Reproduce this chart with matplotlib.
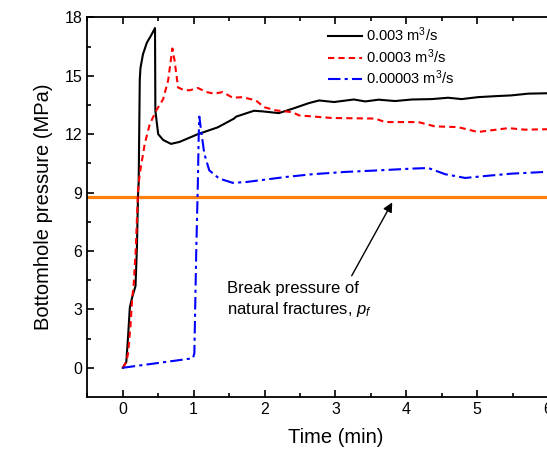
import matplotlib
matplotlib.use("Agg")
import matplotlib.pyplot as plt

plt.rcParams["font.family"] = ["Liberation Sans", "DejaVu Sans"]
plt.rcParams["mathtext.fontset"] = "custom"
plt.rcParams["mathtext.rm"] = "Liberation Sans"
plt.rcParams["mathtext.it"] = "Liberation Sans:italic"

# ── Data ──────────────────────────────────────────────────────────────────────
t_high = [0, 0.05, 0.075, 0.1, 0.135, 0.18, 0.2, 0.215, 0.225, 0.24, 0.25, 0.285, 0.34,
          0.40, 0.455, 0.46, 0.50, 0.57, 0.68, 0.80, 1.06, 1.34, 1.57, 1.6, 1.85, 1.97,
          2.2, 2.39, 2.63, 2.77, 2.98, 3.26, 3.42, 3.61, 3.84, 4.08, 4.36, 4.59, 4.78,
          5.01, 5.25, 5.48, 5.72, 6.0, 6.5]
p_high = [0, 0.3, 1.6, 3.1, 3.65, 4.2, 6.2, 8.8, 9.6, 14.8, 15.4, 16.1, 16.7,
          17.07, 17.45, 13.2, 12.0, 11.7, 11.5, 11.6, 12.0, 12.35, 12.8, 12.9, 13.2, 13.17,
          13.08, 13.3, 13.6, 13.73, 13.65, 13.78, 13.68, 13.77, 13.7, 13.78, 13.8, 13.87, 13.8,
          13.9, 13.95, 13.99, 14.08, 14.1, 14.15]

t_mid = [0, 0.05, 0.075, 0.108, 0.135, 0.155, 0.185, 0.21, 0.215, 0.24, 0.31, 0.38, 0.47,
         0.57, 0.64, 0.70, 0.73, 0.78, 0.85, 0.94, 1.06, 1.18, 1.29, 1.41, 1.55, 1.69,
         1.88, 1.99, 2.16, 2.39, 2.49, 2.95, 3.56, 3.70, 4.17, 4.4, 4.73, 5.01, 5.44,
         5.67, 5.96, 6.5]
p_mid = [0, 0.3, 0.74, 2.1, 3.65, 4.3, 6.2, 8.6, 9.1, 9.97, 11.5, 12.5, 13.2,
         13.8, 14.76, 16.4, 15.8, 14.4, 14.28, 14.25, 14.37, 14.16, 14.08, 14.16, 13.87, 13.9,
         13.73, 13.39, 13.22, 13.13, 12.96, 12.83, 12.8, 12.62, 12.62, 12.4, 12.36, 12.11, 12.31,
         12.23, 12.25, 12.25]

t_low = [0, 0.99, 1.01, 1.035, 1.06, 1.07, 1.08, 1.105, 1.15, 1.22, 1.36, 1.55, 1.74,
         2.02, 2.30, 2.67, 3.14, 3.61, 4.08, 4.31, 4.40, 4.55, 4.83, 5.11, 5.48, 5.96, 6.5]
p_low = [0, 0.49, 0.74, 5.7, 9.6, 11.7, 12.9, 12.2, 11.0, 10.14, 9.72, 9.5, 9.54,
         9.67, 9.8, 9.94, 10.06, 10.14, 10.23, 10.26, 10.14, 9.94, 9.75, 9.85, 9.97, 10.06, 10.1]

labels = ["0.003 m$^3$/s", "0.0003 m$^3$/s", "0.00003 m$^3$/s"]
p_break = 8.75

# ── Plot ──────────────────────────────────────────────────────────────────────
fig = plt.figure(figsize=(5.47, 4.57), dpi=100)
# right part of the axes runs past the figure edge, like the cropped original
ax = fig.add_axes([0.1596, 0.1313, 0.9073, 0.8308])

ax.axhline(p_break, color="#ff7f0e", linewidth=2.3, zorder=1)
ax.plot(t_high, p_high, color="black", linewidth=1.5, linestyle="-", label=labels[0], zorder=3)
ax.plot(t_mid, p_mid, color="red", linewidth=1.5, linestyle=(0, (3, 2)), label=labels[1], zorder=3)
ax.plot(t_low, p_low, color="blue", linewidth=1.5, linestyle=(0, (6, 2, 1.5, 2)), label=labels[2], zorder=3)

ax.set_xlim(-0.5, 6.5)
ax.set_ylim(-1.5, 18)
ax.set_xticks([0, 1, 2, 3, 4, 5, 6])
ax.set_xticks([x + 0.5 for x in range(-1, 7)], minor=True)
ax.set_yticks([0, 3, 6, 9, 12, 15, 18])
ax.set_yticks([1.5, 4.5, 7.5, 10.5, 13.5, 16.5], minor=True)
ax.tick_params(which="both", direction="in", top=True, right=True, labelsize=11.5, width=1.2)
ax.tick_params(which="major", length=5)
ax.tick_params(which="minor", length=2.8)
for s in ax.spines.values():
    s.set_linewidth(1.3)

ax.set_xlabel("Time (min)", fontsize=14.5, labelpad=8)
ax.set_ylabel("Bottomhole pressure (MPa)", fontsize=14.5, labelpad=8)

ax.annotate("", xy=(3.82, 8.62), xytext=(3.21, 4.6),
            arrowprops=dict(arrowstyle="-|>", color="black", lw=1.0, mutation_scale=14))
ax.text(1.47, 3.5, "Break pressure of\nnatural fractures, $p_f$", fontsize=12,
        ha="left", va="center", linespacing=1.3)

fig.legend(loc="upper left", bbox_to_anchor=(0.5996, 0.944), frameon=False, fontsize=10.5,
           borderpad=0, borderaxespad=0, handlelength=2.3, handletextpad=0.3, labelspacing=0.2)

plt.savefig("out.png", dpi=100)
print("Saved: out.png")
